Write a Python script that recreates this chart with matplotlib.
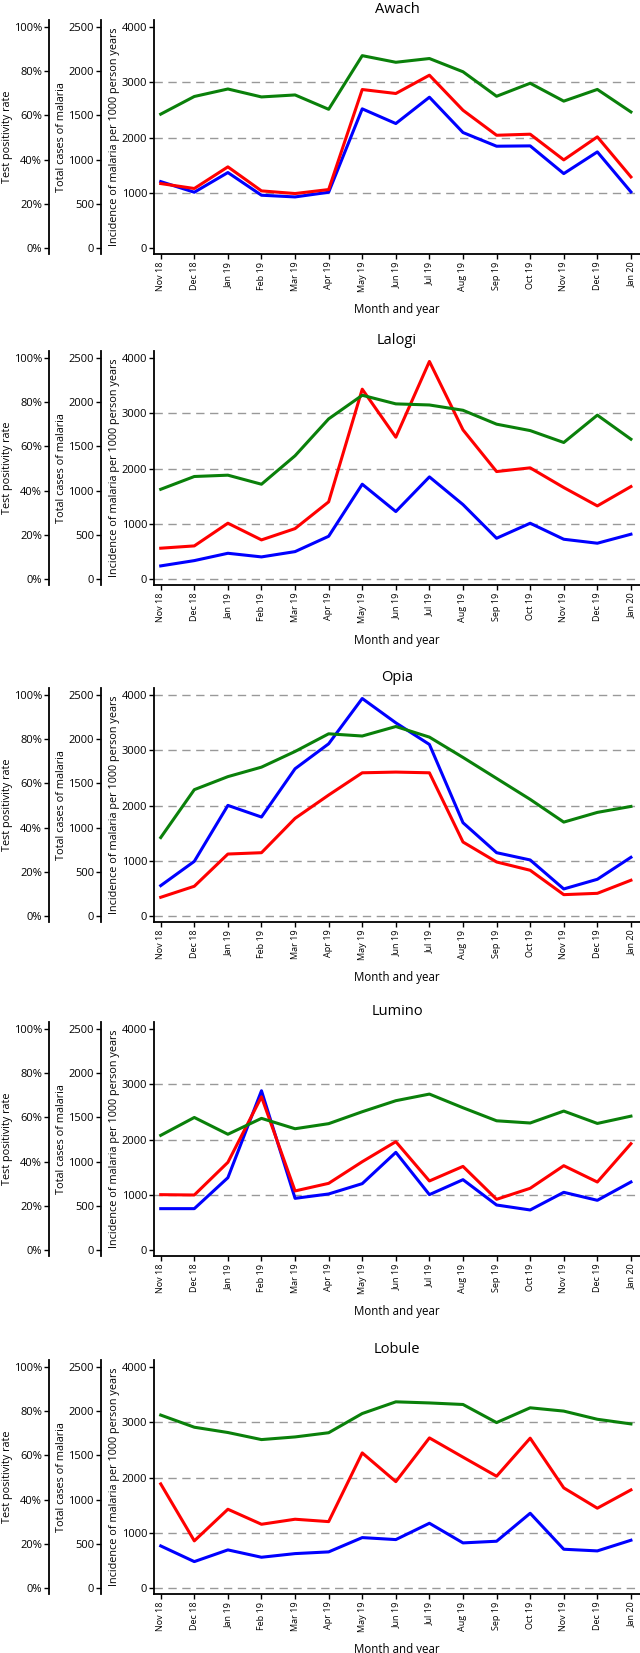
import matplotlib
matplotlib.use("Agg")
import matplotlib.pyplot as plt
import matplotlib.ticker as mticker

plt.rcParams['font.family'] = ['Open Sans', 'DejaVu Sans']

months = ["Nov 18", "Dec 18", "Jan 19", "Feb 19", "Mar 19", "Apr 19", "May 19",
          "Jun 19", "Jul 19", "Aug 19", "Sep 19", "Oct 19", "Nov 19", "Dec 19", "Jan 20"]
sites = ["Awach", "Lalogi", "Opia", "Lumino", "Lobule"]

# test positivity rate (%)
tpr_awach = [60.6, 68.6, 72.0, 68.4, 69.3, 62.8, 87.1, 84.1, 85.8, 79.8, 68.7, 74.6, 66.5, 71.8, 61.6]
tpr_lalogi = [40.6, 46.4, 47.0, 42.9, 55.8, 72.5, 83.2, 79.3, 78.8, 76.4, 70.1, 67.2, 61.8, 74.2, 63.3]
tpr_opia = [35.5, 57.2, 63.1, 67.4, 74.5, 82.5, 81.5, 85.8, 81.0, 71.8, 62.3, 52.8, 42.5, 46.9, 49.6]
tpr_lumino = [51.9, 60.0, 52.4, 59.6, 54.9, 57.2, 62.6, 67.6, 70.6, 64.4, 58.5, 57.5, 62.9, 57.3, 60.6]
tpr_lobule = [78.3, 72.8, 70.4, 67.2, 68.4, 70.3, 79.0, 84.3, 83.8, 83.1, 74.9, 81.6, 80.1, 76.4, 74.3]

# total cases of malaria
cases_awach = [729, 673, 918, 646, 616, 661, 1794, 1749, 1956, 1559, 1276, 1288, 997, 1258, 804]
cases_lalogi = [348, 374, 631, 442, 570, 873, 2149, 1605, 2463, 1688, 1216, 1258, 1035, 827, 1046]
cases_opia = [211, 336, 701, 716, 1105, 1369, 1621, 1629, 1621, 837, 611, 517, 241, 256, 404]
cases_lumino = [626, 622, 992, 1734, 668, 754, 999, 1226, 781, 946, 573, 698, 954, 769, 1203]
cases_lobule = [1178, 533, 891, 721, 778, 751, 1529, 1204, 1699, 1481, 1265, 1696, 1133, 903, 1110]

# incidence of malaria per 1000 person years
inc_awach = [1202, 1009, 1366, 955, 924, 1009, 2520, 2254, 2731, 2091, 1843, 1849, 1347, 1740, 1015]
inc_lalogi = [236, 332, 465, 399, 495, 773, 1716, 1221, 1849, 1347, 737, 1009, 719, 647, 810]
inc_opia = [549, 989, 2003, 1792, 2667, 3119, 3940, 3499, 3107, 1689, 1146, 1014, 489, 664, 1062]
inc_lumino = [748, 748, 1309, 2884, 935, 1014, 1201, 1768, 1002, 1273, 814, 724, 1044, 899, 1231]
inc_lobule = [761, 477, 689, 556, 622, 653, 912, 876, 1172, 816, 846, 1353, 701, 671, 864]

tpr = [tpr_awach, tpr_lalogi, tpr_opia, tpr_lumino, tpr_lobule]
cases = [cases_awach, cases_lalogi, cases_opia, cases_lumino, cases_lobule]
inc = [inc_awach, inc_lalogi, inc_opia, inc_lumino, inc_lobule]

grid_levels = [[1000, 2000, 3000],
               [0, 1000, 2000, 3000],
               [0, 1000, 2000, 3000, 4000],
               [1000, 2000, 3000],
               [0, 1000, 2000, 3000]]

W, H = 640, 1653
fig = plt.figure(figsize=(W / 100, H / 100), dpi=100)

top_px = [20, 351, 688, 1022, 1360]
ax_h = 234
ylo, yhi = -110, 4130
x = list(range(len(months)))

for i, site in enumerate(sites):
    bottom = 1 - (top_px[i] + ax_h) / H
    ax = fig.add_axes([154 / W, bottom, (W - 154) / W, ax_h / H])
    ax.set_ylim(ylo, yhi)
    ax.set_xlim(-0.2, 14.27)
    for g in grid_levels[i]:
        ax.axhline(g, color='#999999', lw=1.0, ls=(0, (6, 4)), zorder=0)
    ax.plot(x, inc[i], color='#0000ff', lw=2.2, zorder=3)
    ax.set_yticks([0, 1000, 2000, 3000, 4000])
    ax.set_xticks(x)
    ax.set_xticklabels(months, rotation=90, fontsize=6.5)
    ax.tick_params(axis='y', labelsize=8, length=3.5, width=1, pad=1.5)
    ax.tick_params(axis='x', length=3.5, width=1, pad=2)
    for s in ['top', 'right']:
        ax.spines[s].set_visible(False)
    for s in ['left', 'bottom']:
        ax.spines[s].set_linewidth(1.3)
    ax.set_ylabel("Incidence of malaria per 1000 person years", fontsize=7.8, va='center')
    ax.yaxis.set_label_coords(-0.0823, 0.5)
    ax.set_xlabel("Month and year", fontsize=8.3, labelpad=8)
    ax.set_title(site, fontsize=10.5, pad=5)

    ax_c = ax.twinx()
    ax_c.set_ylim(ylo * 2500 / 4000, yhi * 2500 / 4000)
    ax_c.plot(x, cases[i], color='#ff0000', lw=2.2, zorder=3)

    ax_t = ax.twinx()
    ax_t.set_ylim(ylo * 100 / 4000, yhi * 100 / 4000)
    ax_t.plot(x, tpr[i], color='#0a800a', lw=2.2, zorder=3)

    for a, off, ticks, lab, lx in [(ax_c, 38.2, [0, 500, 1000, 1500, 2000, 2500], "Total cases of malaria", -0.190),
                                   (ax_t, 75.6, [0, 20, 40, 60, 80, 100], "Test positivity rate", -0.301)]:
        a.yaxis.tick_left()
        a.yaxis.set_label_position('left')
        for s in ['top', 'right', 'bottom']:
            a.spines[s].set_visible(False)
        a.spines['left'].set_visible(True)
        a.spines['left'].set_position(('outward', off))
        a.spines['left'].set_linewidth(1.3)
        a.set_yticks(ticks)
        a.tick_params(axis='y', labelsize=8, length=3.5, width=1, pad=1.5)
        a.set_ylabel(lab, fontsize=7.8, va='center')
        a.yaxis.set_label_coords(lx, 0.5)
    ax_t.yaxis.set_major_formatter(mticker.FuncFormatter(lambda v, p: f"{v:.0f}%"))

fig.savefig("out.png", dpi=100)
